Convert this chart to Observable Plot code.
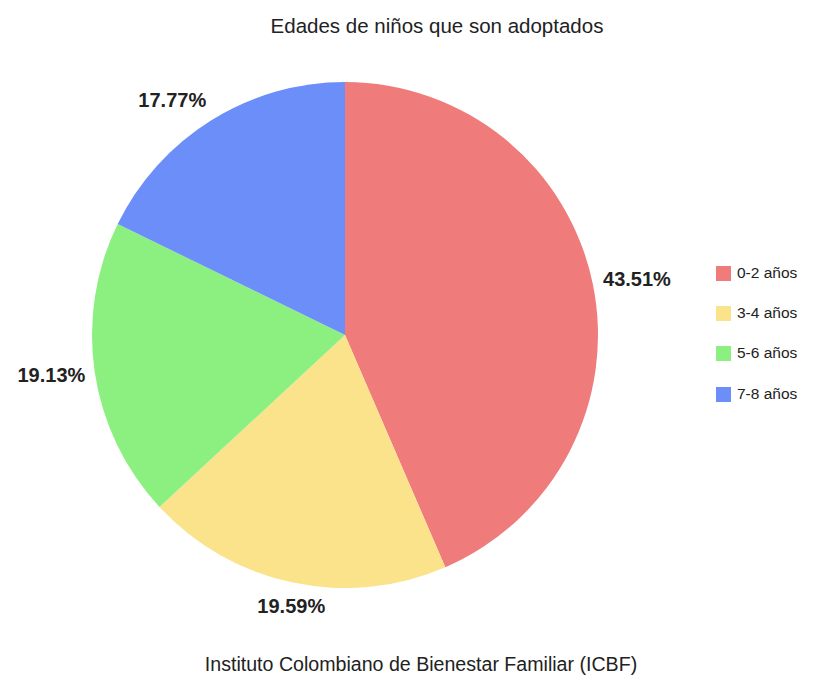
<!DOCTYPE html>
<html>
<head>
<meta charset="utf-8">
<script src="https://cdn.jsdelivr.net/npm/d3@7"></script>
<script src="https://cdn.jsdelivr.net/npm/@observablehq/plot@0.6"></script>
<style>
  html, body { margin: 0; padding: 0; background: #fff; }
  body { width: 827px; height: 683px; position: relative; overflow: hidden;
         font-family: "Liberation Sans", Arial, Helvetica, sans-serif; color: #222; }
  #title { position: absolute; top: 14px; left: 437px; transform: translateX(-50%);
           font-size: 20.5px; white-space: nowrap; }
  #chart { position: absolute; top: 50px; left: 0; }
  #caption { position: absolute; top: 653px; left: 421px; transform: translateX(-50%);
             font-size: 19.6px; white-space: nowrap; }
  #legend { position: absolute; left: 716px; top: 0; }
  .item { position: absolute; left: 0; display: flex; align-items: center; white-space: nowrap;
          font-size: 15.5px; }
  .sw { width: 15px; height: 15px; margin-right: 6px; }
</style>
</head>
<body>
<div id="title"></div>
<div id="chart"></div>
<div id="legend"></div>
<div id="caption"></div>
<script>
const titleText = "Edades de niños que son adoptados";
const captionText = "Instituto Colombiano de Bienestar Familiar (ICBF)";
const categories = ["0-2 años", "3-4 años", "5-6 años", "7-8 años"];
const values = [43.51, 19.59, 19.13, 17.77];
const labels = ["43.51%", "19.59%", "19.13%", "17.77%"];
const colors = ["#EF7B7B", "#FBE38C", "#8CF080", "#6B8EF8"];

document.getElementById("title").textContent = titleText;
document.getElementById("caption").textContent = captionText;

const R = 253; // pixel radius
const pie = d3.pie().sort(null).value(d => d.value);
const table = categories.map((c, i) => ({category: c, value: values[i], label: labels[i], color: colors[i]}));
const arcs = pie(table);

const gap = 10 / R, vshift = 14 / R;
const labelData = arcs.map(a => {
  const m = (a.startAngle + a.endAngle) / 2;
  const s = Math.sin(m), c = Math.cos(m);
  return {
    label: a.data.label,
    x: (1 + gap) * s,
    y: (1 + gap) * c + vshift * c,
    anchor: s > 0.3 ? "start" : s < -0.3 ? "end" : "middle"
  };
});

const pieMark = (index, scales) => {
  const {x, y} = scales;
  const cx = x(0), cy = y(0), r = x(1) - x(0);
  const g = d3.create("svg:g").attr("transform", `translate(${cx},${cy})`);
  const arc = d3.arc().innerRadius(0).outerRadius(r);
  g.selectAll("path").data(arcs).join("path")
    .attr("d", arc)
    .attr("fill", d => d.data.color);
  return g.node();
};

const textOpts = a => ({
  filter: d => d.anchor === a,
  x: "x", y: "y", text: "label", textAnchor: a,
  fontSize: 20, fontWeight: "bold", fill: "#222", lineAnchor: "middle"
});

const cx = 345, cy = 285;
const plot = Plot.plot({
  width: 827,
  height: 590,
  margin: 0,
  style: {fontFamily: '"Liberation Sans", Arial, sans-serif', background: "white"},
  x: {domain: [-1, 1], range: [cx - R, cx + R], axis: null},
  y: {domain: [-1, 1], range: [cy + R, cy - R], axis: null},
  marks: [
    pieMark,
    Plot.text(labelData, textOpts("start")),
    Plot.text(labelData, textOpts("end")),
    Plot.text(labelData, textOpts("middle"))
  ]
});
document.getElementById("chart").appendChild(plot);

const legend = document.getElementById("legend");
const rowY = [273, 313, 353, 394];
categories.forEach((c, i) => {
  const it = document.createElement("div");
  it.className = "item";
  it.style.top = (rowY[i] - 9) + "px";
  it.innerHTML = `<div class="sw" style="background:${colors[i]}"></div><span>${c}</span>`;
  legend.appendChild(it);
});
</script>
</body>
</html>
